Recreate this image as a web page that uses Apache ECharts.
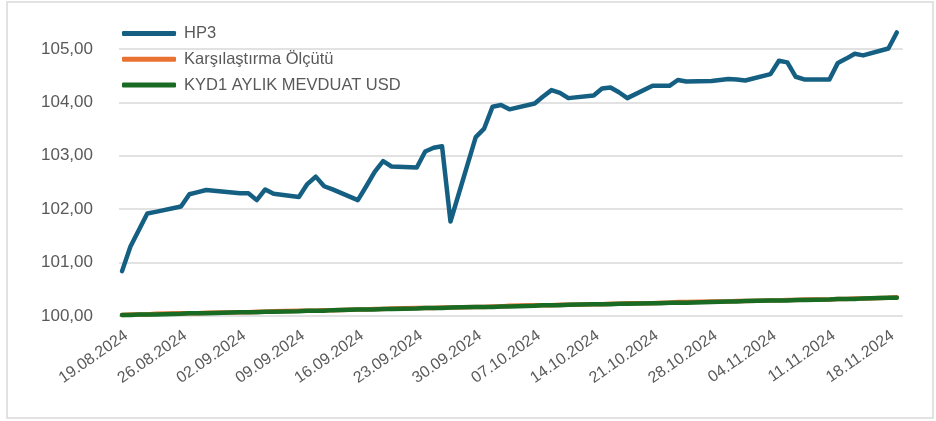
<!DOCTYPE html>
<html>
<head>
<meta charset="utf-8">
<script src="https://cdn.jsdelivr.net/npm/echarts@6/dist/echarts.min.js"></script>
<style>
  html, body { margin: 0; padding: 0; background: #ffffff; }
  #chart { width: 936px; height: 421px; }
</style>
</head>
<body>
<div id="chart"></div>
<script>
// Valuation dates (business days)
const dates = [
  '19.08.2024', '20.08.2024', '21.08.2024', '22.08.2024', '23.08.2024',
  '26.08.2024', '27.08.2024', '28.08.2024', '29.08.2024',
  '02.09.2024', '03.09.2024', '04.09.2024', '05.09.2024', '06.09.2024',
  '09.09.2024', '10.09.2024', '11.09.2024', '12.09.2024', '13.09.2024',
  '16.09.2024', '17.09.2024', '18.09.2024', '19.09.2024', '20.09.2024',
  '23.09.2024', '24.09.2024', '25.09.2024', '26.09.2024', '27.09.2024',
  '30.09.2024', '01.10.2024', '02.10.2024', '03.10.2024', '04.10.2024',
  '07.10.2024', '08.10.2024', '09.10.2024', '10.10.2024', '11.10.2024',
  '14.10.2024', '15.10.2024', '16.10.2024', '17.10.2024', '18.10.2024',
  '21.10.2024', '22.10.2024', '23.10.2024', '24.10.2024', '25.10.2024',
  '28.10.2024', '30.10.2024', '31.10.2024', '01.11.2024',
  '04.11.2024', '05.11.2024', '06.11.2024', '07.11.2024', '08.11.2024',
  '11.11.2024', '12.11.2024', '13.11.2024', '14.11.2024', '15.11.2024',
  '18.11.2024', '19.11.2024'
];

// HP3 fund index
const hp3 = [
  100.84, 101.30, 101.61, 101.92, 101.95,
  102.05, 102.28, 102.32, 102.36,
  102.30, 102.30, 102.17, 102.37, 102.29,
  102.23, 102.47, 102.61, 102.43, 102.37,
  102.17, 102.43, 102.70, 102.90, 102.80,
  102.78, 103.08, 103.15, 103.18, 101.77,
  103.35, 103.51, 103.92, 103.95, 103.87,
  103.98, 104.11, 104.23, 104.18, 104.08,
  104.13, 104.26, 104.28, 104.19, 104.08,
  104.31, 104.31, 104.31, 104.42, 104.39,
  104.40, 104.44, 104.43, 104.41,
  104.53, 104.78, 104.75, 104.48, 104.43,
  104.43, 104.74, 104.82, 104.91, 104.88,
  105.01, 105.31
];

// Karşılaştırma Ölçütü (benchmark)
const benchmark = [
  100.02, 100.03, 100.03, 100.03, 100.04,
  100.05, 100.05, 100.05, 100.06,
  100.07, 100.07, 100.08, 100.08, 100.09,
  100.10, 100.10, 100.10, 100.11, 100.11,
  100.12, 100.12, 100.13, 100.13, 100.14,
  100.15, 100.15, 100.15, 100.16, 100.16,
  100.17, 100.17, 100.18, 100.18, 100.19,
  100.20, 100.20, 100.20, 100.21, 100.21,
  100.22, 100.22, 100.23, 100.23, 100.24,
  100.24, 100.25, 100.25, 100.26, 100.26,
  100.27, 100.27, 100.28, 100.28,
  100.29, 100.29, 100.30, 100.30, 100.31,
  100.31, 100.32, 100.32, 100.33, 100.33,
  100.34, 100.35
];

// KYD1 AYLIK MEVDUAT USD
const kyd = [
  100.02, 100.02, 100.03, 100.03, 100.03,
  100.04, 100.05, 100.05, 100.05,
  100.07, 100.07, 100.07, 100.08, 100.08,
  100.09, 100.10, 100.10, 100.10, 100.11,
  100.12, 100.12, 100.12, 100.13, 100.13,
  100.14, 100.15, 100.15, 100.15, 100.16,
  100.17, 100.17, 100.17, 100.18, 100.18,
  100.19, 100.20, 100.20, 100.20, 100.21,
  100.22, 100.22, 100.22, 100.23, 100.23,
  100.24, 100.24, 100.25, 100.25, 100.25,
  100.26, 100.27, 100.27, 100.28,
  100.29, 100.29, 100.29, 100.30, 100.30,
  100.31, 100.32, 100.32, 100.32, 100.33,
  100.34, 100.34
];

// Weekly date labels on the x axis
const tickDates = [
  '19.08.2024', '26.08.2024', '02.09.2024', '09.09.2024', '16.09.2024',
  '23.09.2024', '30.09.2024', '07.10.2024', '14.10.2024', '21.10.2024',
  '28.10.2024', '04.11.2024', '11.11.2024', '18.11.2024'
];

const seriesNames = ['HP3', 'Karşılaştırma Ölçütü', 'KYD1 AYLIK MEVDUAT USD'];

// Calendar-day offset from the first valuation date
function dayIndex(s) {
  const [d, m, y] = s.split('.').map(Number);
  const [d0, m0, y0] = dates[0].split('.').map(Number);
  return Math.round((Date.UTC(y, m - 1, d) - Date.UTC(y0, m0 - 1, d0)) / 86400000);
}

// rotated labels hang from a point half a day after their date
const LABEL_SHIFT = 0.5;
const labelAt = tickDates.map(t => dayIndex(t) + LABEL_SHIFT);
const labelByPos = {};
tickDates.forEach((t, i) => { labelByPos[labelAt[i].toFixed(2)] = t; });

function pairs(values) {
  return dates.map((d, i) => [dayIndex(d), values[i]]);
}

const textColor = '#595959';
const gridColor = '#d9d9d9';
const font = '"Liberation Sans", Arial, sans-serif';

function lineSeries(name, values, color) {
  return {
    name: name,
    type: 'line',
    data: pairs(values),
    showSymbol: false,
    symbol: 'none',
    smooth: false,
    lineStyle: { color: color, width: 4.5, cap: 'round', join: 'round' },
    itemStyle: { color: color },
    emphasis: { disabled: true },
    animation: false
  };
}

const chart = echarts.init(document.getElementById('chart'), null, { renderer: 'canvas' });

chart.setOption({
  animation: false,
  backgroundColor: '#ffffff',
  textStyle: { fontFamily: font },
  graphic: [{
    type: 'rect',
    shape: { x: 7, y: 2, width: 926, height: 416 },
    style: { fill: 'none', stroke: gridColor, lineWidth: 1.5 },
    silent: true,
    z: 0
  }],
  grid: { left: 119, right: 33.3, top: 22.3, bottom: 105, containLabel: false },
  legend: {
    data: seriesNames,
    orient: 'vertical',
    left: 122,
    top: 25,
    padding: 0,
    itemGap: 8.8,
    itemWidth: 54,
    itemHeight: 5,
    icon: 'roundRect',
    textStyle: { color: textColor, fontSize: 16.5, fontFamily: font, padding: [0, 0, 0, 3] },
    selectedMode: false
  },
  xAxis: {
    type: 'value',
    min: -0.36,
    max: 92.7,
    axisLine: { show: false },
    axisTick: { show: false },
    splitLine: { show: false },
    axisLabel: {
      customValues: labelAt,
      formatter: v => labelByPos[Number(v).toFixed(2)] || '',
      rotate: 35,
      margin: 18,
      color: textColor,
      fontSize: 16,
      fontFamily: font
    }
  },
  yAxis: {
    type: 'value',
    min: 100,
    max: 105.5,
    interval: 1,
    axisLine: { show: false },
    axisTick: { show: false },
    splitLine: { showMaxLine: false, lineStyle: { color: gridColor, width: 1.5 } },
    axisLabel: {
      showMaxLabel: false,
      formatter: v => v.toFixed(2).replace('.', ','),
      margin: 26,
      color: textColor,
      fontSize: 17,
      fontFamily: font
    }
  },
  series: [
    lineSeries(seriesNames[0], hp3, '#156082'),
    lineSeries(seriesNames[1], benchmark, '#E97132'),
    lineSeries(seriesNames[2], kyd, '#196B24')
  ]
});
</script>
</body>
</html>
